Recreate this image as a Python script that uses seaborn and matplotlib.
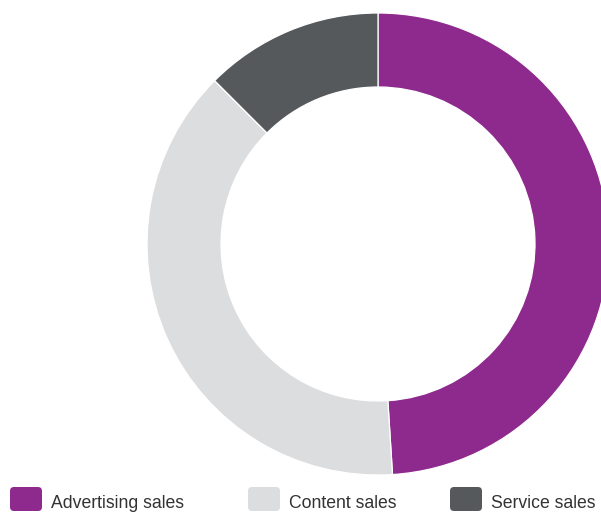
import matplotlib
matplotlib.use("Agg")
import matplotlib.pyplot as plt
from matplotlib.patches import FancyBboxPatch
import seaborn as sns

categories = ["Advertising sales", "Content sales", "Service sales"]
shares = [49.0, 38.5, 12.5]
colors = ["#8E2A8D", "#DCDDDE", "#55595C"]

sns.set_theme(style="white")
plt.rcParams["font.family"] = ["Liberation Sans", "DejaVu Sans"]
palette = sns.color_palette(colors)

W, H = 601, 512
fig = plt.figure(figsize=(W / 100, H / 100), dpi=100)
ax = fig.add_axes([0, 0, 1, 1])

ax.pie(
    shares,
    colors=palette,
    startangle=90,
    counterclock=False,
    center=(378, H - 244),
    radius=231,
    wedgeprops=dict(width=74, edgecolor="white", linewidth=0.9),
)
ax.set_xlim(0, W)
ax.set_ylim(0, H)
ax.set_aspect("equal")
ax.axis("off")

# legend row along the bottom edge
swatch_x = [10, 248, 450]
for x0, label, col in zip(swatch_x, categories, palette):
    ax.add_patch(FancyBboxPatch((x0, H - 511), 32, 24,
                                boxstyle="round,pad=0,rounding_size=4",
                                facecolor=col, edgecolor="none",
                                clip_on=False))
    ax.text(x0 + 41, H - 508, label, fontsize=12.7, color="#333333",
            ha="left", va="baseline")

fig.savefig("out.png", dpi=100)
